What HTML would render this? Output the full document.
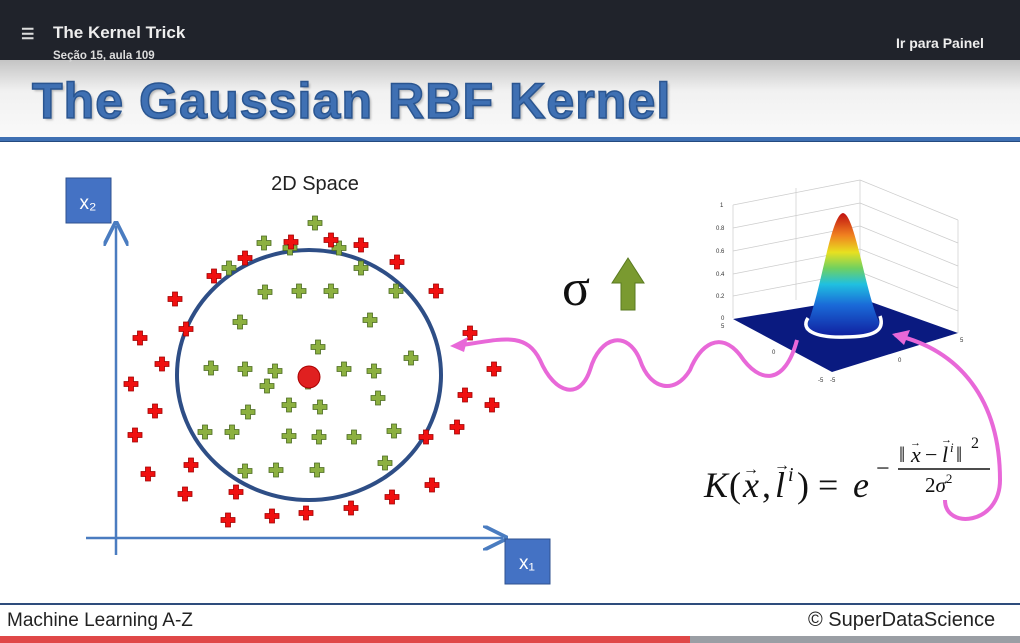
<!DOCTYPE html>
<html><head><meta charset="utf-8"><style>
body{margin:0;width:1020px;height:643px;overflow:hidden;background:#fff;font-family:"Liberation Sans",sans-serif;position:relative}
#top{position:absolute;left:0;top:0;width:1020px;height:60px;background:#20232b}
#hdr{position:absolute;left:0;top:60px;width:1020px;height:78px;background:linear-gradient(#c4c4c4,#f1f1f1 40%,#fafafa)}
.t{position:absolute;white-space:nowrap}
</style></head><body>
<div id="top"></div>
<div id="hdr"></div>
<div class="t" style="left:21px;top:25px;color:#ddd;font-size:15px;font-weight:bold">☰</div>
<div class="t" style="left:53px;top:23px;color:#eee;font-size:17px;font-weight:bold">The Kernel Trick</div>
<div class="t" style="left:53px;top:50px;color:#ddd;font-size:11.5px;font-weight:bold">Seção 15, aula 109</div>
<div class="t" style="left:896px;top:35px;color:#eee;font-size:14px;font-weight:bold">Ir para Painel</div>
<div class="t" style="left:32px;top:72px;color:#3f70b3;font-size:50px;font-weight:bold;letter-spacing:1.1px;-webkit-text-stroke:1.5px #2a5590;text-shadow:2px 2px 2px rgba(0,0,0,.25)">The Gaussian RBF Kernel</div>
<div style="position:absolute;left:0;top:137px;width:1020px;height:4px;background:#3f70b3;border-bottom:1px solid #244a80"></div>
<div style="position:absolute;left:0;top:603px;width:1020px;height:2px;background:#2e4c7c"></div>
<div class="t" style="left:7px;top:610px;font-size:19px;color:#222">Machine Learning A-Z</div>
<div class="t" style="left:808px;top:609px;font-size:20px;color:#222">© SuperDataScience</div>
<div style="position:absolute;left:0;top:636px;width:1020px;height:7px;background:#9a9ea4"><div style="width:690px;height:7px;background:#e04848"></div></div>

<svg width="1020" height="643" style="position:absolute;left:0;top:0">
<defs>
<marker id="ab" markerWidth="10" markerHeight="10" refX="8" refY="5" orient="auto"><path d="M0,0L10,5L0,10" fill="none" stroke="#4a7cc0" stroke-width="1.5"/></marker>
<linearGradient id="cone" x1="0" y1="1" x2="0" y2="0">
<stop offset="0" stop-color="#1020a0"/><stop offset="0.25" stop-color="#1a6ad8"/><stop offset="0.42" stop-color="#20c0e0"/><stop offset="0.55" stop-color="#70d060"/><stop offset="0.68" stop-color="#e8e020"/><stop offset="0.82" stop-color="#f08020"/><stop offset="1" stop-color="#c01010"/></linearGradient>
</defs>
<text x="315" y="190" font-size="20" text-anchor="middle" fill="#222">2D Space</text>
<line x1="116" y1="555" x2="116" y2="226" stroke="#4a7cc0" stroke-width="2.5" marker-end="url(#ab)"/>
<line x1="86" y1="538" x2="503" y2="538" stroke="#4a7cc0" stroke-width="2.5" marker-end="url(#ab)"/>
<rect x="66" y="178" width="45" height="45" fill="#4472c4" stroke="#2f528f"/>
<text x="88" y="209" font-size="19" fill="#fff" text-anchor="middle">x₂</text>
<rect x="505" y="539" width="45" height="45" fill="#4472c4" stroke="#2f528f"/>
<text x="527" y="569" font-size="19" fill="#fff" text-anchor="middle">x₁</text>
<ellipse cx="309" cy="375" rx="132" ry="125" fill="none" stroke="#2e4e86" stroke-width="4"/>
<g id="pts"></g>
<circle cx="309" cy="377" r="11" fill="#e02020" stroke="#a00"/>
<text x="562" y="305" font-size="52" font-family="Liberation Serif,serif" fill="#111">σ</text>
<path d="M621,310 L621,283 L612,283 L628,258 L644,283 L635,283 L635,310 Z" fill="#7a9a30" stroke="#5a7a20"/>
<g stroke="#ccc" stroke-width="0.7" fill="none">
<line x1="733" y1="205" x2="733" y2="318"/><line x1="796" y1="188" x2="796" y2="300"/><line x1="860" y1="180" x2="860" y2="298"/><line x1="958" y1="220" x2="958" y2="333"/>
<line x1="733" y1="205" x2="860" y2="180"/><line x1="860" y1="180" x2="958" y2="220"/>
<line x1="733" y1="228" x2="860" y2="203"/><line x1="733" y1="251" x2="860" y2="226"/><line x1="733" y1="274" x2="860" y2="249"/><line x1="733" y1="296" x2="860" y2="272"/>
<line x1="860" y1="203" x2="958" y2="243"/><line x1="860" y1="226" x2="958" y2="266"/><line x1="860" y1="249" x2="958" y2="288"/><line x1="860" y1="272" x2="958" y2="311"/>
</g>
<polygon points="733,319 860,298 958,333 832,372" fill="#0a1a80"/>
<path d="M805,330 C820,300 830,215 843,213 C856,215 866,300 882,328 C870,338 820,338 805,330 Z" fill="url(#cone)"/>
<path d="M808,318 C800,330 815,338 845,337 C875,337 885,330 880,316" fill="none" stroke="#fff" stroke-width="3.5"/>
<g font-size="6" fill="#333"><text x="720" y="207">1</text><text x="716" y="230">0.8</text><text x="716" y="253">0.6</text><text x="716" y="276">0.4</text><text x="716" y="298">0.2</text><text x="721" y="320">0</text><text x="721" y="328">5</text><text x="772" y="354">0</text><text x="818" y="382">-5</text><text x="830" y="382">-5</text><text x="898" y="362">0</text><text x="960" y="342">5</text></g>
<path d="M797,340 C785,385 760,385 740,355 C720,330 700,345 690,370 C675,395 650,390 640,360 C628,330 600,335 590,370 C580,400 555,395 540,360 C525,330 500,340 455,346" fill="none" stroke="#e868d8" stroke-width="4"/>
<path d="M450,346 L468,337 L464,352 Z" fill="#e868d8"/>
<path d="M945,500 C945,530 1000,525 1000,480 C1000,400 960,350 895,335" fill="none" stroke="#e868d8" stroke-width="4"/>
<path d="M892,334 L910,330 L904,345 Z" fill="#e868d8"/>
<g font-family="Liberation Serif,serif" fill="#111">
<text x="704" y="497" font-size="36" font-style="italic">K</text>
<text x="729" y="497" font-size="36">(</text>
<text x="743" y="497" font-size="36" font-style="italic">x</text>
<text x="743" y="474" font-size="16">→</text>
<text x="762" y="497" font-size="36">,</text>
<text x="775" y="497" font-size="36" font-style="italic">l</text>
<text x="774" y="470" font-size="16">→</text>
<text x="788" y="481" font-size="20" font-style="italic">i</text>
<text x="797" y="497" font-size="36">)</text>
<text x="818" y="497" font-size="36">=</text>
<text x="853" y="497" font-size="36" font-style="italic">e</text>
<text x="876" y="476" font-size="24">−</text>
<text x="899" y="462" font-size="22">‖</text>
<text x="911" y="462" font-size="22" font-style="italic">x</text>
<text x="910" y="446" font-size="11">→</text>
<text x="925" y="462" font-size="22">−</text>
<text x="942" y="462" font-size="22" font-style="italic">l</text>
<text x="941" y="443" font-size="11">→</text>
<text x="950" y="452" font-size="13" font-style="italic">i</text>
<text x="956" y="462" font-size="22">‖</text>
<text x="971" y="448" font-size="16">2</text>
<line x1="898" y1="469" x2="990" y2="469" stroke="#111" stroke-width="1.5"/>
<text x="925" y="492" font-size="21">2<tspan font-style="italic">σ</tspan><tspan font-size="13" dy="-9">2</tspan></text>
</g>
</svg>
<script>
const greenX=[315,264,290,339,229,361,265,299,331,396,240,370,318,411,211,245,275,344,374,308,267,248,289,320,378,205,232,289,319,354,394,245,276,317,385];
const greenY=[223,243,248,248,268,268,292,291,291,291,322,320,347,358,368,369,371,369,371,382,386,412,405,407,398,432,432,436,437,437,431,471,470,470,463];
const redX=[291,331,361,397,245,214,436,175,186,140,470,162,131,494,492,155,465,135,457,426,148,191,432,185,236,392,228,272,306,351];
const redY=[242,240,245,262,258,276,291,299,329,338,333,364,384,369,405,411,395,435,427,437,474,465,485,494,492,497,520,516,513,508];
const g=document.getElementById('pts');
function plus(x,y,fill,stroke,name){
  const p=document.createElementNS('http://www.w3.org/2000/svg','path');
  const a=2.5,b=7;
  p.setAttribute('d',`M${x-a},${y-b}h${2*a}v${b-a}h${b-a}v${2*a}h${a-b}v${b-a}h${-2*a}v${a-b}h${a-b}v${-2*a}h${b-a}z`);
  p.setAttribute('fill',fill);p.setAttribute('stroke',stroke);p.setAttribute('stroke-width','0.8');
  
  
  g.appendChild(p);
}
for(let i=0;i<greenX.length;i++)plus(greenX[i],greenY[i],'#8cb040','#4a6a20','green-point');
for(let i=0;i<redX.length;i++)plus(redX[i],redY[i],'#f01010','#a00000','red-point');
</script>
</body></html>
